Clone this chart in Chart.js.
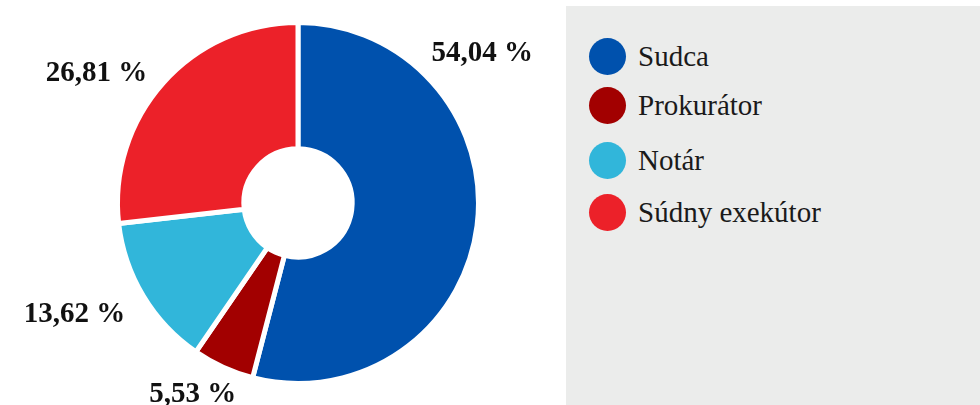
<!DOCTYPE html>
<html>
<head>
<meta charset="utf-8">
<script src="https://cdn.jsdelivr.net/npm/chart.js@4"></script>
<style>
  html, body { margin: 0; padding: 0; background: #fff; }
  #wrap { position: relative; width: 980px; height: 405px; overflow: hidden; }
  #chartBox { position: absolute; left: 0; top: 0; width: 560px; height: 405px; }
  #legend {
    position: absolute; left: 566px; top: 6px; width: 414px; height: 399px;
    background: #ebeceb; color: #1a1a1a;
    font-family: "Liberation Serif", "Times New Roman", "DejaVu Serif", serif; font-size: 29px;
  }
  #legend ul { list-style: none; margin: 0; padding: 0; }
  #legend li { position: absolute; left: 23px; height: 37px; display: flex; align-items: center; }
  #legend .dot { width: 37px; height: 37px; border-radius: 50%; margin-right: 12px; flex: none; }
</style>
</head>
<body>
<div id="wrap">
  <div id="chartBox"><canvas id="pie"></canvas></div>
  <div id="legend"><ul id="legendList"></ul></div>
</div>
<script>
// -------------------------------
// Data
// -------------------------------
const categories = ["Sudca", "Prokurátor", "Notár", "Súdny exekútor"];
const shares = [54.04, 5.53, 13.62, 26.81];
const colors = ["#0051ad", "#a20000", "#31b6da", "#ec2129"];

// label placement along each slice (fraction of arc, distance / radius)
const labelAt = [0.26, 0.73, 0.6, 0.41];
const labelDist = [1.321, 1.2, 1.379, 1.332];

const serif = "'Liberation Serif', 'Times New Roman', 'DejaVu Serif', serif";

function fmt(v) {
  return v.toFixed(2).replace(".", ",") + " %";
}

// -------------------------------
// Outside value labels
// -------------------------------
const outsideLabels = {
  id: "outsideLabels",
  afterDatasetsDraw(chart) {
    const ctx = chart.ctx;
    const meta = chart.getDatasetMeta(0);
    ctx.save();
    ctx.font = "bold 29px " + serif;
    ctx.fillStyle = "#111";
    ctx.textAlign = "center";
    ctx.textBaseline = "alphabetic";
    meta.data.forEach((arc, i) => {
      const p = arc.getProps(["x", "y", "startAngle", "endAngle", "outerRadius"], true);
      const a = p.startAngle + (p.endAngle - p.startAngle) * labelAt[i];
      const r = p.outerRadius * labelDist[i];
      const text = fmt(shares[i]);
      const m = ctx.measureText(text);
      const cx = p.x + Math.cos(a) * r;
      const cy = p.y + Math.sin(a) * r;
      ctx.fillText(text, cx, cy + m.actualBoundingBoxAscent / 2);
    });
    ctx.restore();
  },
};

const pieChart = new Chart(document.getElementById("pie").getContext("2d"), {
  type: "doughnut",
  data: {
    labels: categories,
    datasets: [
      {
        data: shares,
        backgroundColor: colors,
        borderColor: "#ffffff",
        borderWidth: 5,
        hoverOffset: 0,
      },
    ],
  },
  options: {
    responsive: true,
    maintainAspectRatio: false,
    animation: false,
    cutout: "30%",
    layout: { padding: { left: 115, right: 79, top: 20, bottom: 19 } },
    plugins: {
      legend: { display: false },
      tooltip: { enabled: false },
    },
  },
  plugins: [outsideLabels],
});

// -------------------------------
// HTML legend
// -------------------------------
const legendList = document.getElementById("legendList");
const rowTops = [32, 81, 136, 188];
categories.forEach((name, i) => {
  const li = document.createElement("li");
  li.style.top = rowTops[i] + "px";
  li.innerHTML = `<span class="dot" style="background:${colors[i]}"></span><span>${name}</span>`;
  legendList.appendChild(li);
});
</script>
</body>
</html>
